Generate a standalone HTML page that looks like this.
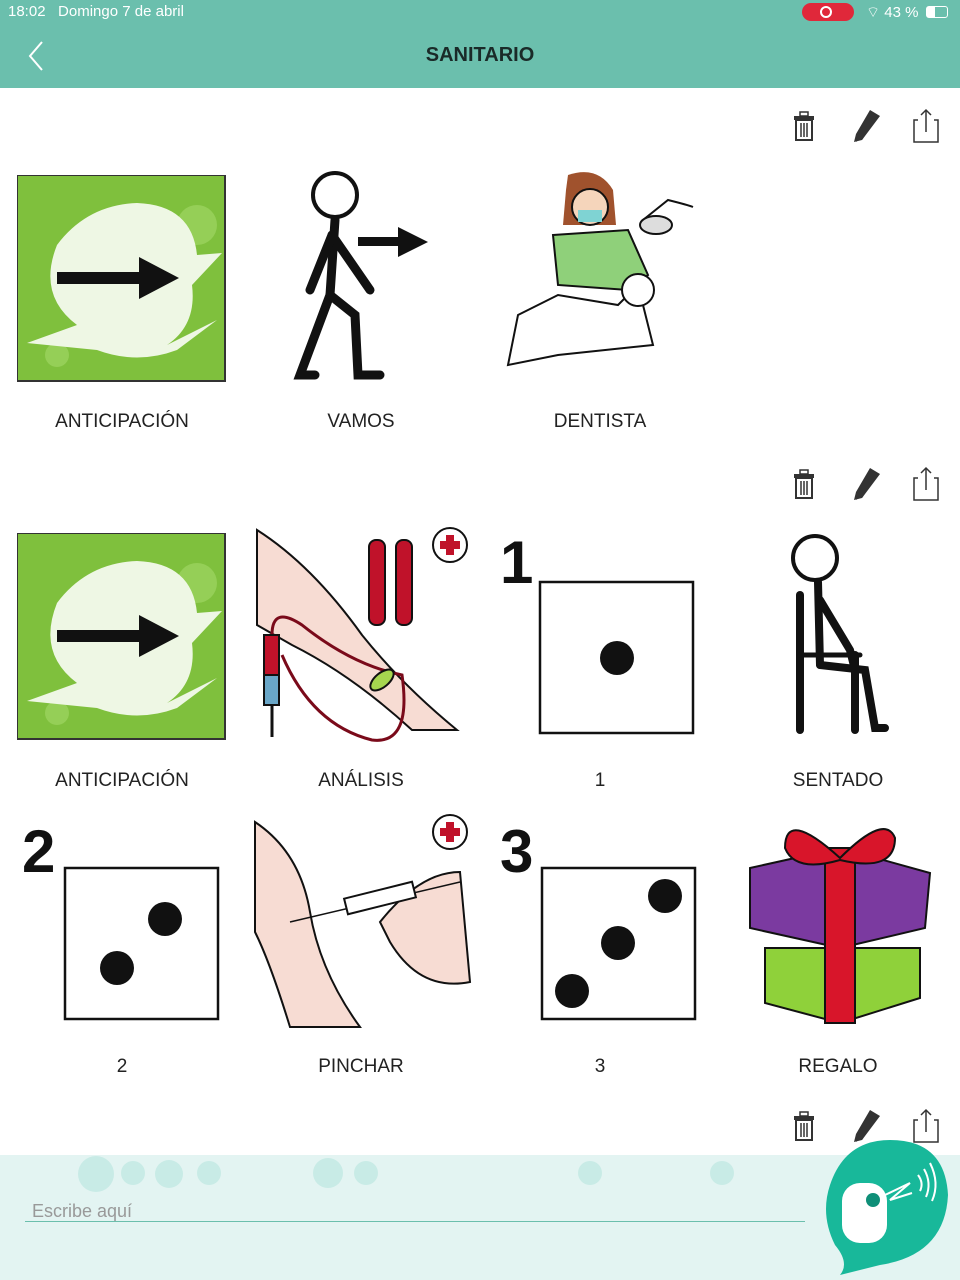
<!DOCTYPE html>
<html><head><meta charset="utf-8"><style>
*{margin:0;padding:0;box-sizing:border-box}
body{width:960px;height:1280px;position:relative;background:#fff;font-family:"Liberation Sans",sans-serif;overflow:hidden}
.a{position:absolute}
.lbl{position:absolute;width:240px;text-align:center;font-size:19px;color:#222}
</style></head><body>
<div class="a" style="left:0;top:0;width:960px;height:88px;background:#6bbfad"></div>
<div class="a" style="left:8px;top:3px;font-size:15px;color:#fff">18:02&nbsp;&nbsp; Domingo 7 de abril</div>
<div class="a" style="left:802px;top:3px;width:52px;height:18px;background:#e0283a;border-radius:9px"></div>
<div class="a" style="left:820px;top:6px;width:12px;height:12px;border:2px solid #fff;border-radius:50%"></div>
<div class="a" style="left:866px;top:3px;font-size:15px;color:#fff">⌔ 43 %</div>
<div class="a" style="left:926px;top:6px;width:22px;height:12px;border:1.5px solid #fff;border-radius:3px"><div style="width:8px;height:100%;background:#fff"></div></div>
<svg class="a" style="left:26px;top:40px" width="20" height="32"><polyline points="16,2 4,16 16,30" fill="none" stroke="#fff" stroke-width="2"/></svg>
<div class="a" style="left:0;top:44px;width:960px;text-align:center;font-size:20px;font-weight:bold;color:#1a2a28">SANITARIO</div>

<svg width="0" height="0" style="position:absolute"><defs>
<g id="tools">
<rect x="4" y="8" width="20" height="4" fill="#333"/><rect x="10" y="4" width="8" height="4" fill="none" stroke="#333" stroke-width="1.5"/>
<rect x="6" y="12" width="16" height="20" fill="none" stroke="#333" stroke-width="2"/>
<line x1="11" y1="15" x2="11" y2="29" stroke="#333" stroke-width="1.5"/><line x1="14" y1="15" x2="14" y2="29" stroke="#333" stroke-width="1.5"/><line x1="17" y1="15" x2="17" y2="29" stroke="#333" stroke-width="1.5"/>
<polygon points="82,4 88,8 72,32 66,30 66,34 70,30" fill="#333"/><polygon points="80,2 90,8 72,32 64,34 66,26" fill="#333"/>
<polyline points="128,12 124,12 124,34 148,34 148,12 144,12" fill="none" stroke="#333" stroke-width="1.5"/>
<line x1="136" y1="2" x2="136" y2="24" stroke="#333" stroke-width="1.5"/><polyline points="131,7 136,2 141,7" fill="none" stroke="#333" stroke-width="1.5"/>
</g>
<g id="antic">
<rect x="0" y="0" width="208" height="206" fill="#7fc03d" stroke="#333" stroke-width="2"/>
<circle cx="180" cy="50" r="20" fill="#95cf57"/><circle cx="40" cy="180" r="12" fill="#95cf57"/>
<path d="M40,70 Q70,30 120,28 Q175,30 180,80 L205,78 L175,110 Q180,150 150,170 L200,145 L160,175 Q120,190 80,175 L10,168 L60,150 Q20,120 40,70Z" fill="#eef7e4"/>
<rect x="40" y="97" width="90" height="12" fill="#111"/><polygon points="122,82 162,103 122,124" fill="#111"/>
</g>
</defs></svg>

<svg class="a" style="left:790px;top:108px" width="150" height="36"><use href="#tools"/></svg>
<svg class="a" style="left:790px;top:466px" width="150" height="36"><use href="#tools"/></svg>
<svg class="a" style="left:790px;top:1108px" width="150" height="36"><use href="#tools"/></svg>

<!-- row1 -->
<svg class="a" style="left:17px;top:175px" width="210" height="208"><use href="#antic"/></svg>
<svg class="a" style="left:280px;top:165px" width="160" height="220" fill="none" stroke="#111" stroke-width="9" stroke-linecap="round">
<circle cx="55" cy="30" r="22" stroke-width="4"/><line x1="55" y1="55" x2="50" y2="130"/><line x1="52" y1="70" x2="30" y2="125"/><line x1="52" y1="70" x2="90" y2="125"/>
<polyline points="50,130 20,210 35,210"/><polyline points="50,130 75,150 78,210 100,210"/>
<rect x="78" y="72" width="50" height="9" fill="#111" stroke="none"/><polygon points="118,62 148,77 118,92" fill="#111" stroke="none"/></svg>
<svg class="a" style="left:498px;top:165px" width="205" height="220">
<path d="M70,10 Q100,0 115,25 L118,60 L65,60 L68,25Z" fill="#a0522d"/><circle cx="92" cy="42" r="18" fill="#f5d5bb" stroke="#111" stroke-width="2"/>
<rect x="80" y="45" width="24" height="12" fill="#7fd3d3"/>
<path d="M55,70 L130,65 L150,110 L130,125 L60,120Z" fill="#8fd07a" stroke="#111" stroke-width="2"/>
<path d="M20,150 L60,130 L120,140 L140,120 L155,180 L60,190 L10,200Z" fill="#fff" stroke="#111" stroke-width="2"/>
<circle cx="140" cy="125" r="16" fill="#fff" stroke="#111" stroke-width="2"/>
<path d="M145,55 L170,35 Q190,40 195,42" fill="none" stroke="#111" stroke-width="2"/><ellipse cx="158" cy="60" rx="16" ry="9" fill="#ddd" stroke="#111" stroke-width="2"/></svg>
<div class="lbl" style="left:2px;top:411px">ANTICIPACIÓN</div>
<div class="lbl" style="left:241px;top:411px">VAMOS</div>
<div class="lbl" style="left:480px;top:411px">DENTISTA</div>

<!-- row2 -->
<svg class="a" style="left:17px;top:533px" width="210" height="208"><use href="#antic"/></svg>
<svg class="a" style="left:252px;top:525px" width="220" height="220">
<path d="M5,5 Q60,40 110,110 Q150,160 205,205 L160,205 Q100,150 40,120 L5,100Z" fill="#f7dcd3" stroke="#111" stroke-width="2"/>
<rect x="117" y="15" width="16" height="85" rx="7" fill="#c0122a" stroke="#111" stroke-width="2"/><rect x="144" y="15" width="16" height="85" rx="7" fill="#c0122a" stroke="#111" stroke-width="2"/>
<circle cx="198" cy="20" r="17" fill="#fff" stroke="#111" stroke-width="2"/><path d="M194,10h8v6h6v8h-6v6h-8v-6h-6v-8h6z" fill="#c0122a"/>
<path d="M20,110 Q20,80 50,100 Q100,140 150,150 Q160,220 120,215 Q60,200 30,130" fill="none" stroke="#7a0a1a" stroke-width="3"/>
<rect x="12" y="110" width="15" height="60" fill="#c0122a" stroke="#111" stroke-width="2"/><rect x="12" y="150" width="15" height="30" fill="#6aa7c8" stroke="#111" stroke-width="2"/>
<line x1="20" y1="180" x2="20" y2="212" stroke="#111" stroke-width="3"/>
<ellipse cx="130" cy="155" rx="14" ry="7" fill="#a6d64f" stroke="#111" stroke-width="2" transform="rotate(-40 130 155)"/></svg>
<svg class="a" style="left:500px;top:535px" width="200" height="205">
<text x="0" y="48" font-family="Liberation Sans" font-weight="bold" font-size="60" fill="#111">1</text>
<rect x="40" y="47" width="153" height="151" fill="#fff" stroke="#111" stroke-width="2.5"/><circle cx="117" cy="123" r="17" fill="#111"/></svg>
<svg class="a" style="left:780px;top:530px" width="120" height="210" fill="none" stroke="#111" stroke-width="8" stroke-linecap="round">
<circle cx="35" cy="28" r="22" stroke-width="4"/><line x1="38" y1="52" x2="40" y2="135"/><polyline points="40,70 70,120 75,140"/>
<polyline points="40,135 85,140 95,198 105,198"/><line x1="20" y1="65" x2="20" y2="200"/><line x1="20" y1="125" x2="80" y2="125" stroke-width="5"/><line x1="75" y1="125" x2="75" y2="200"/></svg>
<div class="lbl" style="left:2px;top:770px">ANTICIPACIÓN</div>
<div class="lbl" style="left:241px;top:770px">ANÁLISIS</div>
<div class="lbl" style="left:480px;top:770px">1</div>
<div class="lbl" style="left:718px;top:770px">SENTADO</div>

<!-- row3 -->
<svg class="a" style="left:22px;top:820px" width="200" height="205">
<text x="0" y="52" font-family="Liberation Sans" font-weight="bold" font-size="60" fill="#111">2</text>
<rect x="43" y="48" width="153" height="151" fill="#fff" stroke="#111" stroke-width="2.5"/><circle cx="143" cy="99" r="17" fill="#111"/><circle cx="95" cy="148" r="17" fill="#111"/></svg>
<svg class="a" style="left:250px;top:812px" width="225" height="220">
<path d="M5,10 Q50,40 60,100 Q70,160 110,215 L40,215 Q20,150 5,120Z" fill="#f7dcd3" stroke="#111" stroke-width="2"/>
<path d="M130,110 Q170,60 210,60 L220,170 Q170,180 140,130Z" fill="#f7dcd3" stroke="#111" stroke-width="2"/>
<line x1="40" y1="110" x2="210" y2="70" stroke="#111" stroke-width="1.5"/><rect x="95" y="78" width="70" height="16" fill="#fff" stroke="#111" stroke-width="2" transform="rotate(-14 130 86)"/>
<circle cx="200" cy="20" r="17" fill="#fff" stroke="#111" stroke-width="2"/><path d="M196,10h8v6h6v8h-6v6h-8v-6h-6v-8h6z" fill="#c0122a"/></svg>
<svg class="a" style="left:500px;top:820px" width="200" height="205">
<text x="0" y="52" font-family="Liberation Sans" font-weight="bold" font-size="60" fill="#111">3</text>
<rect x="42" y="48" width="153" height="151" fill="#fff" stroke="#111" stroke-width="2.5"/><circle cx="165" cy="76" r="17" fill="#111"/><circle cx="118" cy="123" r="17" fill="#111"/><circle cx="72" cy="171" r="17" fill="#111"/></svg>
<svg class="a" style="left:745px;top:818px" width="190" height="210">
<path d="M20,130 L20,185 L95,205 L175,180 L175,130Z" fill="#8fd13a" stroke="#111" stroke-width="2"/>
<path d="M5,50 L95,30 L185,55 L180,110 L95,130 L5,110Z" fill="#7b3aa0" stroke="#111" stroke-width="2"/>
<rect x="80" y="30" width="30" height="175" fill="#d8152a" stroke="#111" stroke-width="2"/>
<path d="M95,40 Q40,-10 40,30 Q50,55 95,42 Q150,55 150,20 Q140,-5 95,40Z" fill="#d8152a" stroke="#111" stroke-width="2"/></svg>
<div class="lbl" style="left:2px;top:1056px">2</div>
<div class="lbl" style="left:241px;top:1056px">PINCHAR</div>
<div class="lbl" style="left:480px;top:1056px">3</div>
<div class="lbl" style="left:718px;top:1056px">REGALO</div>

<!-- bottom -->
<div class="a" style="left:0;top:1155px;width:960px;height:125px;background:#e3f4f2"></div>
<div class="a" style="left:78px;top:1156px;width:36px;height:36px;border-radius:50%;background:#c8ebe6"></div>
<div class="a" style="left:121px;top:1161px;width:24px;height:24px;border-radius:50%;background:#c8ebe6"></div>
<div class="a" style="left:155px;top:1160px;width:28px;height:28px;border-radius:50%;background:#c8ebe6"></div>
<div class="a" style="left:197px;top:1161px;width:24px;height:24px;border-radius:50%;background:#c8ebe6"></div>
<div class="a" style="left:313px;top:1158px;width:30px;height:30px;border-radius:50%;background:#c8ebe6"></div>
<div class="a" style="left:354px;top:1161px;width:24px;height:24px;border-radius:50%;background:#c8ebe6"></div>
<div class="a" style="left:578px;top:1161px;width:24px;height:24px;border-radius:50%;background:#c8ebe6"></div>
<div class="a" style="left:710px;top:1161px;width:24px;height:24px;border-radius:50%;background:#c8ebe6"></div>
<div class="a" style="left:32px;top:1201px;font-size:18px;color:#999">Escribe aquí</div>
<div class="a" style="left:25px;top:1221px;width:780px;height:1px;background:#6bbfad"></div>
<svg class="a" style="left:820px;top:1135px" width="130" height="145">
<path d="M70,5 Q125,5 128,60 Q125,120 60,130 L20,140 Q30,128 15,110 Q0,80 10,50 Q25,5 70,5Z" fill="#18b89a"/>
<rect x="22" y="48" width="45" height="60" rx="18" fill="#fff"/><circle cx="53" cy="65" r="7" fill="#0f8f78"/>
<polyline points="65,60 90,48 70,65 92,58" fill="none" stroke="#fff" stroke-width="2"/>
<path d="M98,40 Q104,48 100,56 M104,34 Q112,48 106,62 M110,28 Q120,48 112,66" fill="none" stroke="#fff" stroke-width="2"/></svg>
</body></html>
